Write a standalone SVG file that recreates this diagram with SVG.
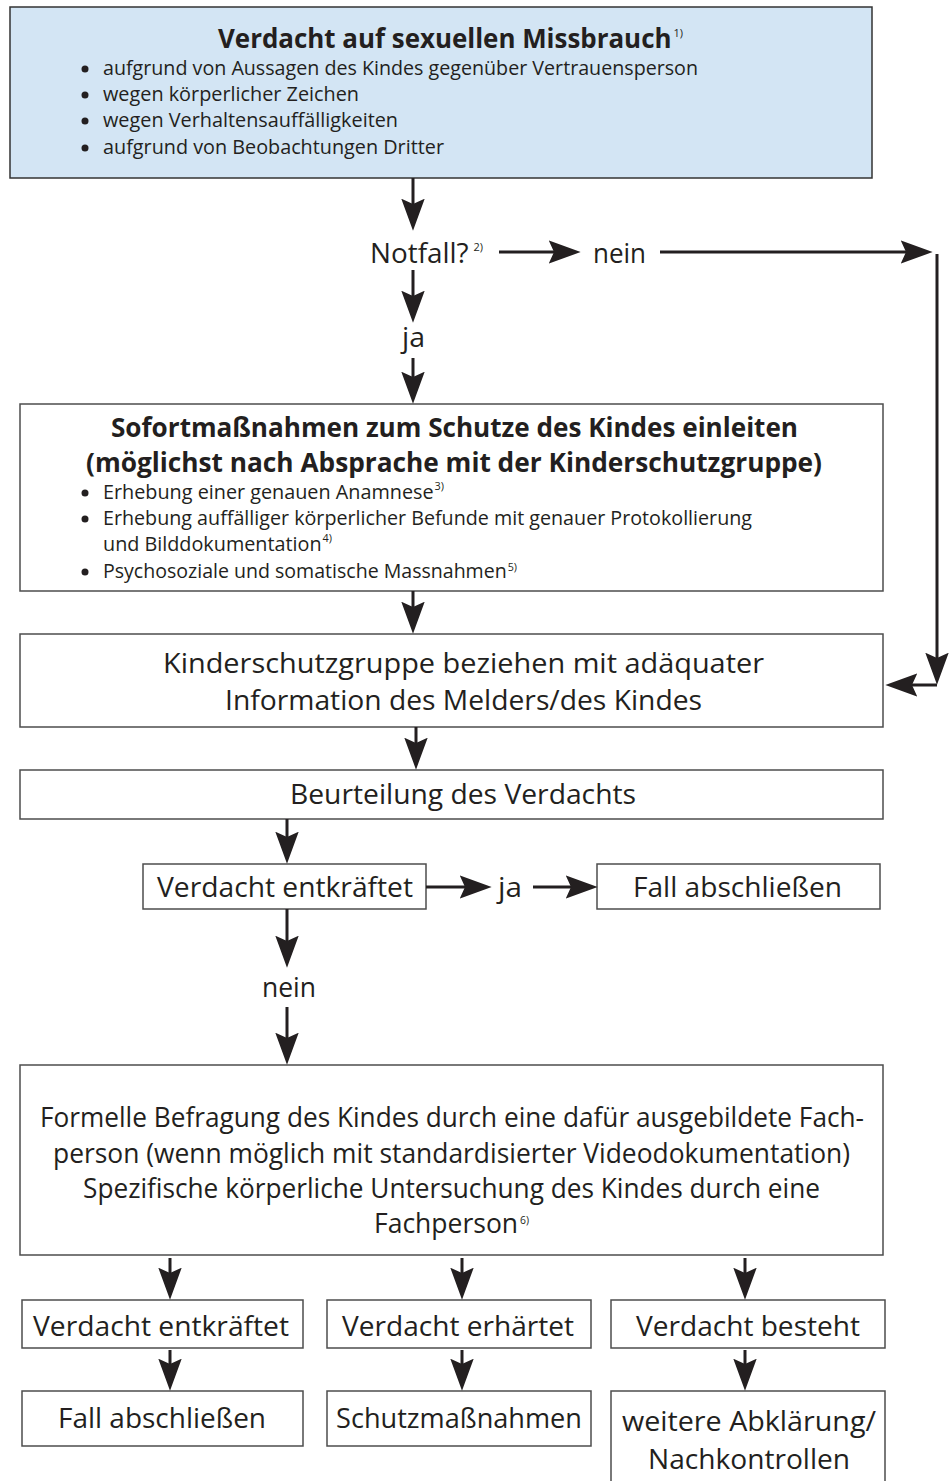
<svg xmlns="http://www.w3.org/2000/svg" width="949" height="1481" viewBox="0 0 949 1481">
<style>
text{font-family:"Open Sans","Noto Sans","Liberation Sans",sans-serif;fill:#231f20}
.b{font-weight:bold;font-size:26px}
.t{font-size:28px}
.s{font-size:20px}
.sup{font-size:11px;font-weight:normal}
.box{fill:#fff;stroke:#4d4d4d;stroke-width:1.5}
.top{fill:#d3e5f4;stroke:#333;stroke-width:1.5}
.c line{stroke:#231f20;stroke-width:3;fill:none}
.dot{fill:#231f20}
</style>
<defs>
<marker id="ah" markerUnits="userSpaceOnUse" markerWidth="32" markerHeight="24" viewBox="0 0 30 22" refX="20" refY="11" orient="auto">
<path d="M0,0 L30,11 L0,22 L5,11 z" fill="#231f20"/>
</marker>
</defs>

<g id="n1">
<rect class="top" x="10" y="7" width="862" height="171"/>
<text class="b" x="218" y="48" textLength="465" lengthAdjust="spacingAndGlyphs">Verdacht auf sexuellen Missbrauch<tspan class="sup" dx="2" dy="-11">1)</tspan></text>
<circle class="dot" cx="85" cy="69" r="3.5"/>
<circle class="dot" cx="85" cy="95" r="3.5"/>
<circle class="dot" cx="85" cy="121" r="3.5"/>
<circle class="dot" cx="85" cy="148" r="3.5"/>
<text class="s" x="103" y="75" textLength="595" lengthAdjust="spacingAndGlyphs">aufgrund von Aussagen des Kindes gegenüber Vertrauensperson</text>
<text class="s" x="103" y="101" textLength="256" lengthAdjust="spacingAndGlyphs">wegen körperlicher Zeichen</text>
<text class="s" x="103" y="127" textLength="295" lengthAdjust="spacingAndGlyphs">wegen Verhaltensauffälligkeiten</text>
<text class="s" x="103" y="154" textLength="341" lengthAdjust="spacingAndGlyphs">aufgrund von Beobachtungen Dritter</text>
</g>

<g id="notfall">
<text class="t" x="370" y="263" textLength="113" lengthAdjust="spacingAndGlyphs">Notfall?<tspan class="sup" dx="5" dy="-12">2)</tspan></text>
</g>
<g id="nein1"><text class="t" x="593" y="263" textLength="53" lengthAdjust="spacingAndGlyphs">nein</text></g>
<g id="ja1"><text class="t" x="402" y="347" textLength="23" lengthAdjust="spacingAndGlyphs">ja</text></g>

<g id="n2">
<rect class="box" x="20" y="404" width="863" height="187"/>
<text class="b" x="111" y="437" textLength="687" lengthAdjust="spacingAndGlyphs">Sofortmaßnahmen zum Schutze des Kindes einleiten</text>
<text class="b" x="86" y="472" textLength="736" lengthAdjust="spacingAndGlyphs">(möglichst nach Absprache mit der Kinderschutzgruppe)</text>
<circle class="dot" cx="85" cy="493" r="3.5"/>
<circle class="dot" cx="85" cy="519" r="3.5"/>
<circle class="dot" cx="85" cy="572" r="3.5"/>
<text class="s" x="103" y="499" textLength="341" lengthAdjust="spacingAndGlyphs">Erhebung einer genauen Anamnese<tspan class="sup" dx="1" dy="-9">3)</tspan></text>
<text class="s" x="103" y="525" textLength="649" lengthAdjust="spacingAndGlyphs">Erhebung auffälliger körperlicher Befunde mit genauer Protokollierung</text>
<text class="s" x="103" y="551" textLength="229" lengthAdjust="spacingAndGlyphs">und Bilddokumentation<tspan class="sup" dx="1" dy="-9">4)</tspan></text>
<text class="s" x="103" y="578" textLength="414" lengthAdjust="spacingAndGlyphs">Psychosoziale und somatische Massnahmen<tspan class="sup" dx="1" dy="-7">5)</tspan></text>
</g>

<g id="n3">
<rect class="box" x="20" y="634" width="863" height="93"/>
<text class="t" x="163" y="673" textLength="601" lengthAdjust="spacingAndGlyphs">Kinderschutzgruppe beziehen mit adäquater</text>
<text class="t" x="225" y="710" textLength="477" lengthAdjust="spacingAndGlyphs">Information des Melders/des Kindes</text>
</g>

<g id="n4">
<rect class="box" x="20" y="770" width="863" height="49"/>
<text class="t" x="290" y="804" textLength="346" lengthAdjust="spacingAndGlyphs">Beurteilung des Verdachts</text>
</g>

<g id="n5">
<rect class="box" x="143" y="864" width="283" height="45"/>
<text class="t" x="157" y="897" textLength="256" lengthAdjust="spacingAndGlyphs">Verdacht entkräftet</text>
</g>
<g id="ja2"><text class="t" x="498" y="897" textLength="24" lengthAdjust="spacingAndGlyphs">ja</text></g>
<g id="n6">
<rect class="box" x="597" y="864" width="283" height="45"/>
<text class="t" x="633" y="897" textLength="209" lengthAdjust="spacingAndGlyphs">Fall abschließen</text>
</g>
<g id="nein2"><text class="t" x="262" y="997" textLength="54" lengthAdjust="spacingAndGlyphs">nein</text></g>

<g id="n7">
<rect class="box" x="20" y="1065" width="863" height="190"/>
<text class="t" x="40" y="1127" textLength="824" lengthAdjust="spacingAndGlyphs">Formelle Befragung des Kindes durch eine dafür ausgebildete Fach-</text>
<text class="t" x="53" y="1163" textLength="797" lengthAdjust="spacingAndGlyphs">person (wenn möglich mit standardisierter Videodokumentation)</text>
<text class="t" x="83" y="1198" textLength="737" lengthAdjust="spacingAndGlyphs">Spezifische körperliche Untersuchung des Kindes durch eine</text>
<text class="t" x="374" y="1233" textLength="155" lengthAdjust="spacingAndGlyphs">Fachperson<tspan class="sup" dx="2" dy="-9">6)</tspan></text>
</g>

<g id="n8">
<rect class="box" x="22" y="1300" width="281" height="48"/>
<text class="t" x="33" y="1336" textLength="256" lengthAdjust="spacingAndGlyphs">Verdacht entkräftet</text>
</g>
<g id="n9">
<rect class="box" x="327" y="1300" width="264" height="48"/>
<text class="t" x="342" y="1336" textLength="232" lengthAdjust="spacingAndGlyphs">Verdacht erhärtet</text>
</g>
<g id="n10">
<rect class="box" x="611" y="1300" width="274" height="48"/>
<text class="t" x="636" y="1336" textLength="224" lengthAdjust="spacingAndGlyphs">Verdacht besteht</text>
</g>
<g id="n11">
<rect class="box" x="22" y="1391" width="281" height="55"/>
<text class="t" x="58" y="1428" textLength="208" lengthAdjust="spacingAndGlyphs">Fall abschließen</text>
</g>
<g id="n12">
<rect class="box" x="327" y="1391" width="264" height="55"/>
<text class="t" x="336" y="1428" textLength="246" lengthAdjust="spacingAndGlyphs">Schutzmaßnahmen</text>
</g>
<g id="n13">
<rect class="box" x="611" y="1391" width="274" height="95"/>
<text class="t" x="622" y="1431" textLength="254" lengthAdjust="spacingAndGlyphs">weitere Abklärung/</text>
<text class="t" x="648" y="1469" textLength="202" lengthAdjust="spacingAndGlyphs">Nachkontrollen</text>
</g>

<g id="connectors" class="c">
<line x1="413" y1="178" x2="413" y2="220" marker-end="url(#ah)"/>
<line x1="413" y1="270" x2="413" y2="312" marker-end="url(#ah)"/>
<line x1="413" y1="358" x2="413" y2="393" marker-end="url(#ah)"/>
<line x1="499" y1="252" x2="570" y2="252" marker-end="url(#ah)"/>
<line x1="660" y1="252" x2="922" y2="252" marker-end="url(#ah)"/>
<line x1="937" y1="254" x2="937" y2="674" marker-end="url(#ah)"/>
<line x1="937" y1="685" x2="896" y2="685" marker-end="url(#ah)"/>
<line x1="413" y1="591" x2="413" y2="623" marker-end="url(#ah)"/>
<line x1="416" y1="727" x2="416" y2="759" marker-end="url(#ah)"/>
<line x1="287" y1="819" x2="287" y2="853" marker-end="url(#ah)"/>
<line x1="426" y1="887" x2="481" y2="887" marker-end="url(#ah)"/>
<line x1="533" y1="887" x2="587" y2="887" marker-end="url(#ah)"/>
<line x1="287" y1="909" x2="287" y2="957" marker-end="url(#ah)"/>
<line x1="287" y1="1007" x2="287" y2="1054" marker-end="url(#ah)"/>
<line x1="170" y1="1258" x2="170" y2="1289" marker-end="url(#ah)"/>
<line x1="462" y1="1258" x2="462" y2="1289" marker-end="url(#ah)"/>
<line x1="745" y1="1258" x2="745" y2="1289" marker-end="url(#ah)"/>
<line x1="170" y1="1350" x2="170" y2="1380" marker-end="url(#ah)"/>
<line x1="462" y1="1350" x2="462" y2="1380" marker-end="url(#ah)"/>
<line x1="745" y1="1350" x2="745" y2="1380" marker-end="url(#ah)"/>
</g>
</svg>
